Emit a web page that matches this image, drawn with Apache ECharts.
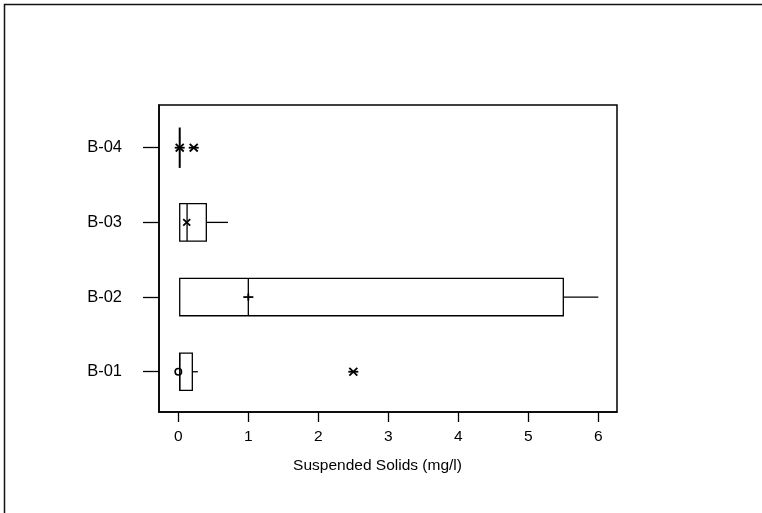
<!DOCTYPE html>
<html>
<head>
<meta charset="utf-8">
<script src="https://cdn.jsdelivr.net/npm/echarts@6/dist/echarts.min.js"></script>
<style>
  html, body { margin: 0; padding: 0; background: #fff; }
  #chart { width: 762px; height: 513px; }
</style>
</head>
<body>
<div id="chart"></div>
<script>
// Suspended solids by borehole: box plots with means and outliers
const categories = ['B-01', 'B-02', 'B-03', 'B-04'];
const whiskerLow = [0.02, 0.02, 0.02, 0.02];
const q1 = [0.02, 0.02, 0.02, 0.02];
const median = [0.02, 1.0, 0.125, 0.02];
const q3 = [0.2, 5.5, 0.4, 0.02];
const whiskerHigh = [0.28, 6.0, 0.71, 0.02];

// mean markers: value per category and the glyph used
const meanValues = [0.0, 1.0, 0.12, 0.02];
const meanSymbols = ['circle', 'plus', 'cross', 'star'];

// outliers: [category index, value]
const outlierCategory = [0, 3];
const outlierValues = [2.5, 0.22];

const xTicks = [0, 1, 2, 3, 4, 5, 6];
const xTitle = 'Suspended Solids (mg/l)';

const boxData = categories.map((c, i) => [i + 1, whiskerLow[i], q1[i], median[i], q3[i], whiskerHigh[i]]);
const markerData = categories.map((c, i) => [meanValues[i], i + 1, meanSymbols[i]]);
outlierCategory.forEach((ci, k) => markerData.push([outlierValues[k], ci + 1, 'star']));

const INK = '#000';
const FONT = 'Liberation Sans, Arial, sans-serif';
const BOX_HALF = 18.7;

function renderBox(params, api) {
  const y = api.value(0);
  const pLo = api.coord([api.value(1), y]);
  const pQ1 = api.coord([api.value(2), y]);
  const pMed = api.coord([api.value(3), y]);
  const pQ3 = api.coord([api.value(4), y]);
  const pHi = api.coord([api.value(5), y]);
  const style = { stroke: INK, lineWidth: 1.3, fill: null };
  const hasBox = pQ3[0] - pQ1[0] > 0.5;
  const children = [];
  if (hasBox) {
    children.push({ type: 'rect', shape: { x: pQ1[0], y: pQ1[1] - BOX_HALF, width: pQ3[0] - pQ1[0], height: 2 * BOX_HALF }, style: { stroke: INK, lineWidth: 1.3, fill: '#fff' } });
  }
  const mh = hasBox ? BOX_HALF : BOX_HALF + 1.5;
  children.push({ type: 'line', shape: { x1: pMed[0], y1: pMed[1] - mh, x2: pMed[0], y2: pMed[1] + mh }, style: { stroke: INK, lineWidth: hasBox ? 1.3 : 2 } });
  if (pHi[0] - pQ3[0] > 0.5) {
    children.push({ type: 'line', shape: { x1: pQ3[0], y1: pQ3[1], x2: pHi[0], y2: pHi[1] }, style: style });
  }
  if (pQ1[0] - pLo[0] > 0.5) {
    children.push({ type: 'line', shape: { x1: pLo[0], y1: pLo[1], x2: pQ1[0], y2: pQ1[1] }, style: style });
  }
  return { type: 'group', children: children };
}

function renderMarker(params, api) {
  const p = api.coord([api.value(0), api.value(1)]);
  const kind = api.value(2);
  const x = p[0], y = p[1];
  const st = { stroke: INK, lineWidth: 1.8, fill: null };
  const L = (x1, y1, x2, y2) => ({ type: 'line', shape: { x1: x + x1, y1: y + y1, x2: x + x2, y2: y + y2 }, style: st });
  let children = [];
  if (kind === 'circle') {
    children = [{ type: 'circle', shape: { cx: x, cy: y, r: 3.2 }, style: { stroke: INK, lineWidth: 1.6, fill: null } }];
  } else if (kind === 'plus') {
    children = [L(-5, 0, 5, 0), L(0, -3.5, 0, 3.5)];
  } else if (kind === 'cross') {
    children = [L(-3.5, -3.2, 3.5, 3.2), L(-3.5, 3.2, 3.5, -3.2)];
  } else {
    children = [L(-4, -3.8, 4, 3.8), L(-4, 3.8, 4, -3.8), L(-5, 0, 5, 0)];
  }
  return { type: 'group', children: children };
}

const chart = echarts.init(document.getElementById('chart'), null, { renderer: 'canvas' });
chart.setOption({
  animation: false,
  backgroundColor: '#fff',
  graphic: [
    // page frame: only the top and left edges fall inside the view
    { type: 'rect', shape: { x: 4.5, y: 4.5, width: 770, height: 520 }, style: { stroke: '#111', lineWidth: 1.5, fill: null }, z: -1 }
  ],
  grid: {
    left: 159, top: 105, width: 458, height: 307,
    show: true, borderColor: INK, borderWidth: 1.5, backgroundColor: 'transparent'
  },
  xAxis: {
    type: 'value',
    min: -0.276, max: 6.267,
    name: xTitle,
    nameLocation: 'middle',
    nameGap: 46,
    nameTextStyle: { fontFamily: FONT, fontSize: 15.5, color: INK, padding: [0, 21, 0, 0] },
    axisLine: { show: true, onZero: false, lineStyle: { color: INK, width: 1.5 } },
    splitLine: { show: false },
    axisTick: { show: true, customValues: xTicks, length: 10, lineStyle: { color: INK, width: 1.3 } },
    axisLabel: { customValues: xTicks, margin: 17, fontFamily: FONT, fontSize: 15.5, color: INK }
  },
  yAxis: {
    type: 'value',
    min: 0.461, max: 4.572,
    axisLine: { show: true, onZero: false, lineStyle: { color: INK, width: 1.5 } },
    splitLine: { show: false },
    axisTick: { show: true, customValues: [1, 2, 3, 4], length: 16, lineStyle: { color: INK, width: 1.3 } },
    axisLabel: {
      customValues: [1, 2, 3, 4], margin: 37,
      fontFamily: FONT, fontSize: 16.5, color: INK,
      formatter: v => categories[Math.round(v) - 1] || ''
    }
  },
  series: [
    { type: 'custom', name: 'box', renderItem: renderBox, data: boxData, encode: { x: [1, 2, 3, 4, 5], y: 0 }, clip: false, z: 2 },
    { type: 'custom', name: 'markers', renderItem: renderMarker, data: markerData, encode: { x: 0, y: 1 }, clip: false, z: 3 }
  ]
});
</script>
</body>
</html>
